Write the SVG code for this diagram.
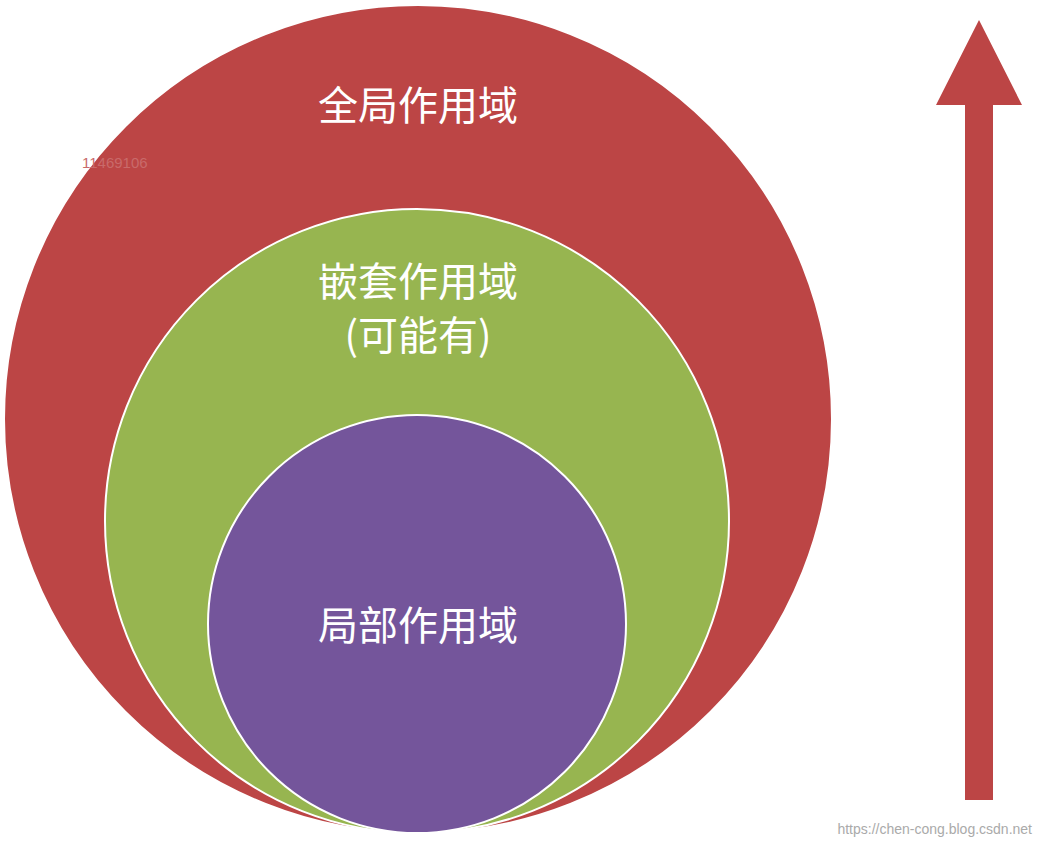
<svg xmlns="http://www.w3.org/2000/svg" width="1042" height="847" viewBox="0 0 1042 847">
<style>
.c{stroke:#fff;stroke-width:2}
.t{font-family:"Noto Sans CJK SC","Liberation Sans",sans-serif;font-size:40px;fill:#fff;text-anchor:middle}
</style>
<rect width="1042" height="847" fill="#fff"/>
<g id="global"><circle class="c" cx="418" cy="419" r="414" fill="#BC4545"/><text class="t" x="418" y="120">全局作用域</text></g>
<text x="82" y="168" font-family="Liberation Sans,sans-serif" font-size="15" fill="#c96a6a">11469106</text>
<g id="nested"><circle class="c" cx="417" cy="521" r="312" fill="#97B550"/><text class="t" x="418" y="296">嵌套作用域</text><text class="t" x="418" y="350">(可能有)</text></g>
<g id="local"><circle class="c" cx="417" cy="624" r="209" fill="#74559B"/><text class="t" x="418" y="640">局部作用域</text></g>
<g id="connectors"><path d="M965 800V105H936L979 20L1022 105H993V800Z" fill="#BC4545"/></g>
<text x="1032" y="834" text-anchor="end" font-family="Liberation Sans,sans-serif" font-size="14" fill="#aaa">https://chen-cong.blog.csdn.net</text>
</svg>
